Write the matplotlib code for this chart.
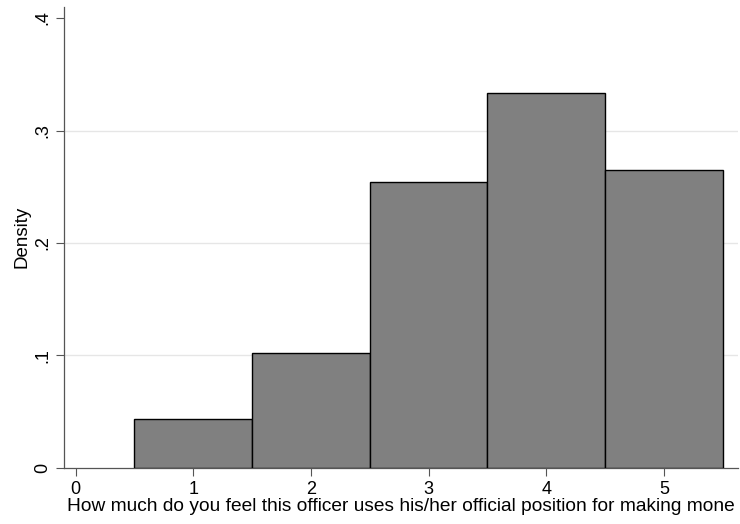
import matplotlib
matplotlib.use('Agg')
import matplotlib.pyplot as plt

# histogram bins (response categories) and their densities
categories = [1, 2, 3, 4, 5]
density = [0.0435, 0.102, 0.254, 0.333, 0.265]
x_ticks = [0, 1, 2, 3, 4, 5]
x_tick_labels = ["0", "1", "2", "3", "4", "5"]
y_ticks = [0, 0.1, 0.2, 0.3, 0.4]
y_tick_labels = ["0", ".1", ".2", ".3", ".4"]
# variable label as shown (truncated at 80 characters)
x_title = "How much do you feel this officer uses his/her official position for making mone"

plt.rcParams['font.family'] = ['Liberation Sans', 'DejaVu Sans']

fig = plt.figure(figsize=(7.4, 5.24), dpi=100)
ax = fig.add_axes([0.0865, 0.107, 0.911, 0.88])

ax.bar(categories, density, width=1.0, color="#808080", edgecolor="black",
       linewidth=1.0, zorder=3)

ax.set_xlim(-0.098, 5.63)
ax.set_ylim(0, 0.41)

ax.set_yticks(y_ticks)
ax.set_yticklabels(y_tick_labels, rotation=90, va="center")
ax.set_xticks(x_ticks)
ax.set_xticklabels(x_tick_labels)
ax.tick_params(labelsize=13, length=6, width=0.8, color="#555555")
ax.tick_params(axis="y", pad=3)

for y in y_ticks[1:4]:
    ax.axhline(y, color="#e6e6e6", linewidth=1.0, zorder=1)

for side in ["top", "right"]:
    ax.spines[side].set_visible(False)
for side in ["left", "bottom"]:
    ax.spines[side].set_color("#555555")
    ax.spines[side].set_linewidth(0.9)

ax.set_ylabel("Density", fontsize=13.5, labelpad=3)
ax.set_xlabel(x_title, fontsize=13.8, labelpad=0)

fig.savefig("out.png", dpi=100)
